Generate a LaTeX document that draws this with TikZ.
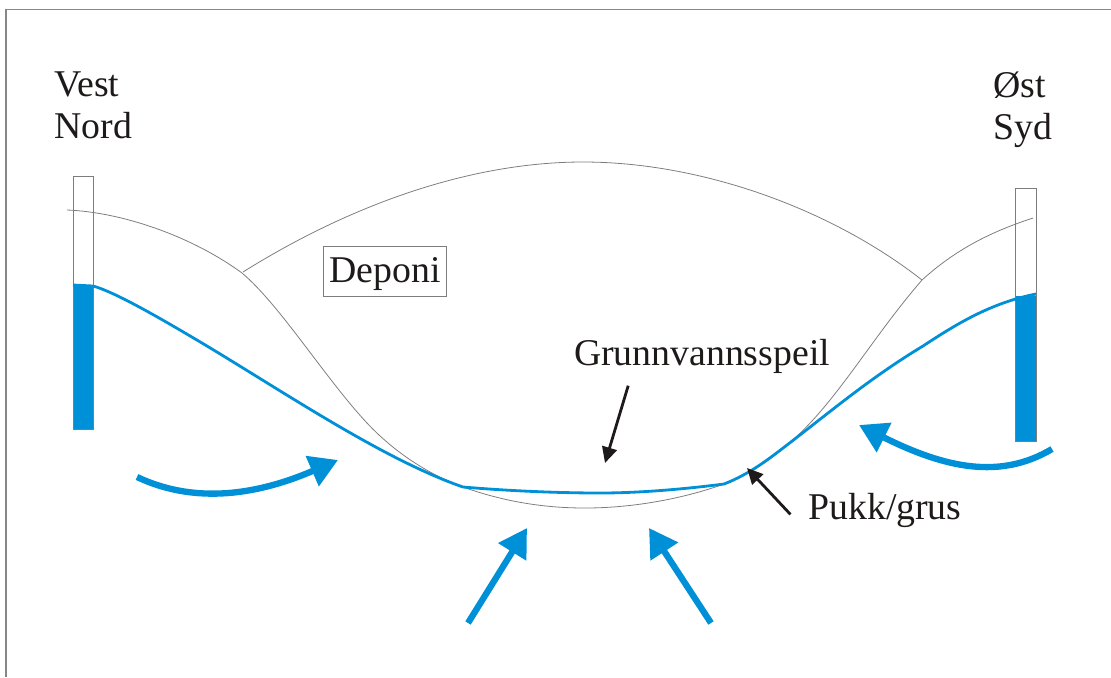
\documentclass[tikz,border=0pt]{standalone}
\usepackage{fontspec}
\setmainfont{Liberation Serif}
\usetikzlibrary{arrows.meta,positioning,calc}
\definecolor{watercolor}{RGB}{0,144,216}
\definecolor{linecolor}{RGB}{125,125,125}
\definecolor{framecolor}{RGB}{135,135,135}
\definecolor{textcolor}{RGB}{30,26,26}
\tikzset{
  site label/.style={
    inner sep=0pt,
    text=textcolor,
    font=\fontsize{21.5}{24}\selectfont
  },
  terrain/.style={
    draw=linecolor,
    line width=0.45pt
  },
  water/.style={
    draw=watercolor,
    line width=1.6pt
  },
  flow/.style={
    -{Triangle[length=16pt,width=18pt]},
    draw=watercolor,
    fill=none,
    line width=3.6pt
  },
  pointer/.style={
    -{Triangle[length=9pt,width=8.5pt]},
    draw=textcolor,
    line width=1.6pt
  },
  pipe/.style={
    draw=linecolor,
    line width=0.5pt
  }
}

\begin{document}
\begin{tikzpicture}[x=0.02cm,y=-0.02cm]
  \useasboundingbox (0,0) rectangle (1111,677);

  % Frame
  \draw[framecolor, line width=0.6pt] (6,677) -- (6,9.5) -- (1111,9.5);

  % Observation pipes
  \fill[watercolor] (73,285) rectangle (93,429);
  \fill[watercolor] (1015,296) rectangle (1036,441);
  \draw[pipe] (73,176) rectangle (93,429);
  \draw[pipe] (1015,188) rectangle (1036,441);

  % Landfill body
  \draw[terrain] (243,272) .. controls (350,205) and (470,162) .. (583,162)
    .. controls (700,162) and (830,208) .. (922,280);

  % Gravel bed
  \draw[terrain] (67,210) .. controls (120,212) and (190,235) .. (242,273)
    .. controls (280,305) and (325,378) .. (367,423)
    .. controls (395,453) and (430,475) .. (463,487)
    .. controls (505,502) and (545,508) .. (585,508)
    .. controls (635,508) and (685,498) .. (724,484)
    .. controls (750,474) and (770,460) .. (787,445)
    .. controls (835,405) and (870,340) .. (922,280)
    .. controls (955,250) and (990,232) .. (1033,218);

  % Groundwater table
  \draw[water] (73,285) -- (93,286) .. controls (115,292) and (160,318) .. (207,346)
    .. controls (290,396) and (385,460) .. (463,487)
    .. controls (510,491) and (560,493) .. (600,493)
    .. controls (640,493) and (685,489) .. (724,484)
    .. controls (750,474) and (770,458) .. (787,445)
    .. controls (830,412) and (870,378) .. (923,346)
    .. controls (955,325) and (990,303) .. (1036,294);

  % Labels
  \node[site label, align=left, anchor=north west] (west) at (54,71) {Vest\\Nord};
  \node[site label, align=left, anchor=north west] (east) at (993,71) {Øst\\Syd};
  \node[site label, draw=linecolor, line width=0.5pt, text height=16pt, text depth=3pt,
    minimum width=124*0.567pt, minimum height=51*0.567pt] (deponi) at (385,271.5) {Deponi};
  \node[site label, anchor=base] (table) at (702,365) {Grunnvannsspeil};
  \node[site label, anchor=base west] (gravel) at (808,519) {Pukk/grus};

  % Pointers
  \coordinate (table tail) at ([xshift=-42pt,yshift=-7pt]table.south);
  \coordinate (table tip) at (605,463);
  \coordinate (gravel tail) at ([xshift=-10pt,yshift=-2.5pt]gravel.west);
  \coordinate (gravel tip) at (747,468);
  \draw[pointer] (table tail) -- (table tip);
  \draw[pointer] (gravel tail) -- (gravel tip);

  % Inflow arrows
  \coordinate (west in) at (137,477);
  \coordinate (west out) at (338,460);
  \coordinate (east in) at (1052,449);
  \coordinate (east out) at (859,425);
  \coordinate (left in) at (468,623);
  \coordinate (left out) at (527,528);
  \coordinate (right in) at (711,623);
  \coordinate (right out) at (649,528);
  \draw[flow] (west in) .. controls (190,502) and (250,498) .. (west out);
  \draw[flow] (east in) .. controls (1000,480) and (945,468) .. (east out);
  \draw[flow] (left in) -- (left out);
  \draw[flow] (right in) -- (right out);
\end{tikzpicture}
\end{document}
